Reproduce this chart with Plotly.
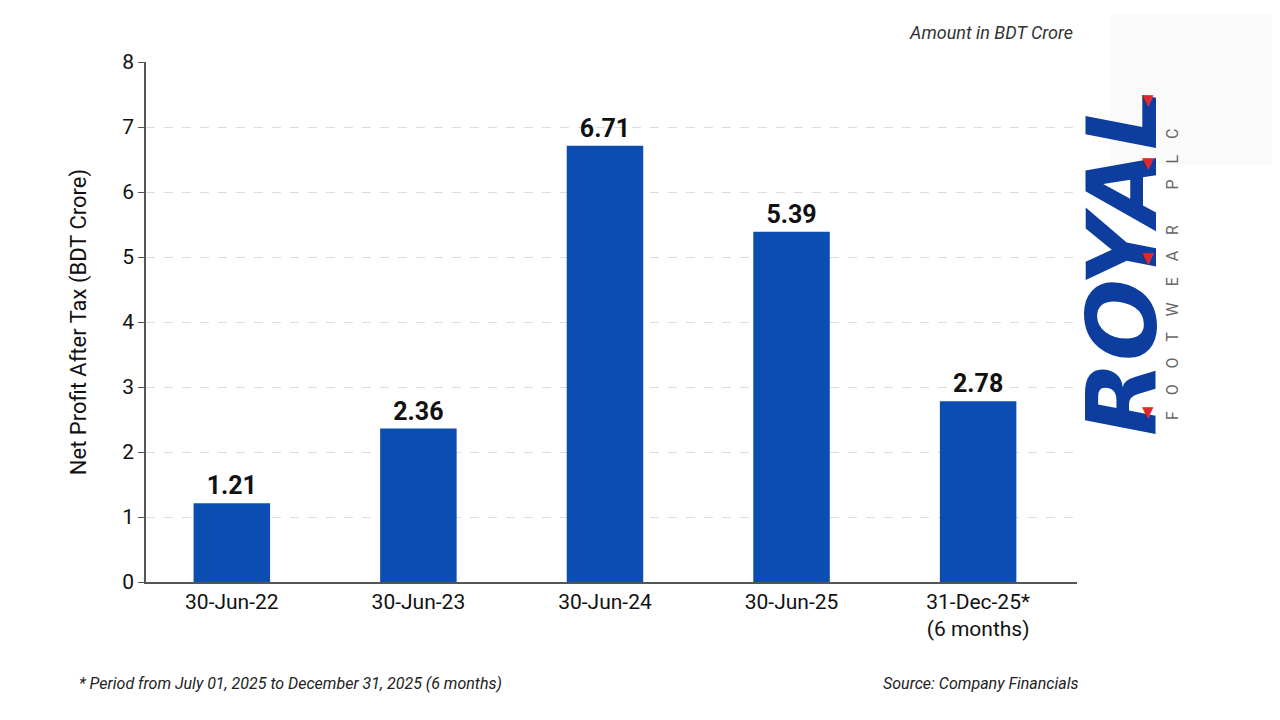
import plotly.graph_objects as go

# data
periods = ["30-Jun-22", "30-Jun-23", "30-Jun-24", "30-Jun-25", "31-Dec-25*<br>(6 months)"]
npat = [1.21, 2.36, 6.71, 5.39, 2.78]
labels = ["<b>1.21</b>", "<b>2.36</b>", "<b>6.71</b>", "<b>5.39</b>", "<b>2.78</b>"]
y_ticks = [0, 1, 2, 3, 4, 5, 6, 7, 8]

# page has 8px body margin, so the figure is drawn 8px in
OFF = 8
W, H = 1280 - OFF, 720 - OFF
L, R, T, B = 146 - OFF, 1280 - 1077, 62 - OFF, 720 - 582
PW, PH = W - L - R, H - T - B

# screen pixel -> paper helpers
def px(x): return (x - OFF - L) / PW
def py(y): return (H - B - (y - OFF)) / PH

FONT = "Roboto"
BLUE = "#0b4db0"

fig = go.Figure()
fig.add_trace(go.Bar(
    x=periods, y=npat,
    text=labels, textposition="outside",
    textfont=dict(family=FONT, size=25, color="#111111"),
    marker=dict(color=BLUE, line=dict(width=0)),
    cliponaxis=False,
    hoverinfo="skip",
))

sp = "\u00a0" * 3
footwear = (sp + " ").join("FOOTWEAR") + sp * 3 + (sp + " ").join("PLC")

annots = [
    dict(text="Amount in BDT Crore", x=px(1075), y=py(33), xanchor="right", yanchor="middle",
         font=dict(family=FONT, size=18, color="#333333", style="italic")),
    dict(text="* Period from July 01, 2025 to December 31, 2025 (6 months)", x=px(77), y=py(683),
         xanchor="left", yanchor="middle", font=dict(family=FONT, size=16, color="#222222", style="italic")),
    dict(text="Source: Company Financials", x=px(1080), y=py(683), xanchor="right", yanchor="middle",
         font=dict(family=FONT, size=16, color="#222222", style="italic")),
    # logo
    dict(text="<b><i>ROYAL</i></b>", x=px(1123), y=py(262), textangle=-90, xanchor="center", yanchor="middle",
         font=dict(family="DejaVu Sans", size=97, color="#0d3d9e")),
    dict(text=footwear, x=px(1172), y=py(275), textangle=-90,
         xanchor="center", yanchor="middle", font=dict(family=FONT, size=16, color="#666666")),
]
for ty in [100, 163, 258, 412]:
    annots.append(dict(text="▼", x=px(1148), y=py(ty), xanchor="center", yanchor="middle",
                       font=dict(family="DejaVu Sans", size=15, color="#e3262b")))
for a in annots:
    a.update(xref="paper", yref="paper", showarrow=False)

fig.update_layout(
    width=W, height=H,
    margin=dict(l=L, r=R, t=T, b=B),
    paper_bgcolor="white", plot_bgcolor="white",
    bargap=0.59,
    showlegend=False,
    font=dict(family=FONT, color="#111111"),
    annotations=annots,
    shapes=[dict(type="rect", xref="paper", yref="paper", x0=px(1110), x1=px(1290),
                 y0=py(165), y1=py(15), fillcolor="#fafafa", line=dict(width=0), layer="below")],
    xaxis=dict(
        range=[-0.46, 4.53],
        showline=True, linecolor="#555555", linewidth=1.5,
        ticks="", tickfont=dict(family=FONT, size=21, color="#111111"),
        showgrid=False,
    ),
    yaxis=dict(
        range=[0, 8], tickvals=y_ticks,
        showline=True, linecolor="#555555", linewidth=1.5,
        ticks="outside", ticklen=6, tickcolor="#555555",
        tickfont=dict(family=FONT, size=21, color="#111111"),
        showgrid=True, gridcolor="#dddddd", griddash="dash", gridwidth=1,
        zeroline=False,
        title=dict(text="Net Profit After Tax (BDT Crore)", standoff=30,
                   font=dict(family=FONT, size=22, color="#111111")),
    ),
)

fig.write_html("out.html")
